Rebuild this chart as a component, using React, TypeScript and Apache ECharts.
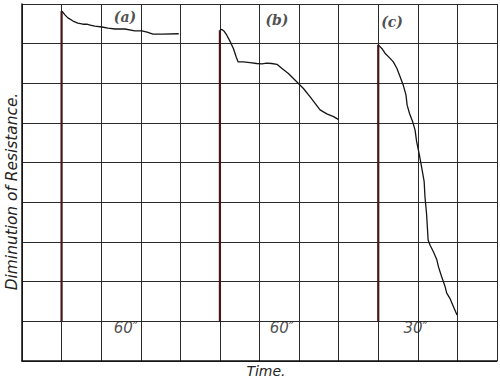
import React, { useEffect, useRef } from "react";
import * as echarts from "echarts";

const curveA: [number, number][] = [
  [1.0, 8.82], [1.02, 8.81], [1.09, 8.72], [1.16, 8.65], [1.29, 8.57], [1.41, 8.52],
  [1.54, 8.49], [1.64, 8.49], [1.72, 8.47], [1.84, 8.44], [2.02, 8.42], [2.17, 8.39],
  [2.35, 8.37], [2.6, 8.37], [2.85, 8.32], [3.03, 8.32], [3.16, 8.29], [3.31, 8.24],
  [3.54, 8.24], [3.96, 8.25],
];
const curveB: [number, number][] = [
  [5.0, 8.34], [5.05, 8.36], [5.1, 8.32], [5.17, 8.22], [5.25, 8.07], [5.34, 7.88],
  [5.41, 7.67], [5.46, 7.54], [5.59, 7.54], [5.76, 7.52], [5.93, 7.5], [6.06, 7.49],
  [6.18, 7.51], [6.31, 7.5], [6.44, 7.48], [6.56, 7.38], [6.73, 7.25], [6.94, 7.04],
  [7.11, 6.87], [7.28, 6.66], [7.4, 6.5], [7.53, 6.33], [7.7, 6.23], [7.87, 6.16],
  [7.99, 6.09],
];
const curveC: [number, number][] = [
  [9.0, 7.97], [9.09, 7.88], [9.17, 7.76], [9.3, 7.63], [9.38, 7.54], [9.47, 7.38],
  [9.55, 7.17], [9.63, 6.96], [9.7, 6.71], [9.73, 6.45], [9.79, 6.24], [9.87, 6.03],
  [9.93, 5.82], [9.97, 5.53], [10.04, 5.19], [10.1, 4.86], [10.16, 4.52], [10.18, 4.14],
  [10.22, 3.72], [10.26, 3.05], [10.31, 2.92], [10.39, 2.76], [10.48, 2.55], [10.52, 2.38],
  [10.6, 2.13], [10.69, 1.87], [10.73, 1.71], [10.81, 1.58], [10.9, 1.37], [10.99, 1.16],
];
const startLines: [number, number, number][] = [
  [1, 1, 8.82],
  [5, 1, 8.34],
  [9, 1, 7.97],
];
const curveLabels: [number, number, string][] = [
  [2.6, 8.67, "(a)"],
  [6.44, 8.6, "(b)"],
  [9.35, 8.55, "(c)"],
];
const durationLabels: [number, number, string][] = [
  [2.63, 0.84, "60\u2033"],
  [6.57, 0.83, "60\u2033"],
  [9.95, 0.83, "30\u2033"],
];

export default function App() {
  const ref = useRef<HTMLDivElement>(null);
  useEffect(() => {
    if (!ref.current) return;
    const chart = echarts.init(ref.current, undefined, { renderer: "svg" });
    const gridColor = "#2a2a2a";
    const series: any[] = [];
    startLines.forEach(([x, y0, y1]) => {
      series.push({
        type: "line",
        data: [[x, y0], [x, y1]],
        showSymbol: false,
        lineStyle: { color: "#4a1416", width: 2.2 },
        z: 3,
      });
    });
    [curveA, curveB, curveC].forEach((c) => {
      series.push({
        type: "line",
        data: c,
        showSymbol: false,
        lineStyle: { color: "#151515", width: 1.3 },
        z: 4,
      });
    });
    series.push({
      type: "scatter",
      data: curveLabels.map(([x, y, t]) => ({ value: [x, y], name: t })),
      symbolSize: 0,
      label: {
        show: true,
        position: "inside",
        formatter: (p: any) => p.name,
        fontFamily: "DejaVu Serif",
        fontStyle: "italic",
        fontWeight: "bold",
        fontSize: 14,
        color: "#222",
      },
      z: 5,
    });
    series.push({
      type: "scatter",
      data: durationLabels.map(([x, y, t]) => ({ value: [x, y], name: t })),
      symbolSize: 0,
      label: {
        show: true,
        position: "inside",
        formatter: (p: any) => p.name,
        fontFamily: "DejaVu Sans",
        fontStyle: "italic",
        fontSize: 15,
        color: "#222",
      },
      z: 5,
    });
    chart.setOption({
      animation: false,
      backgroundColor: "#ffffff",
      grid: { left: 22, top: 4, width: 475, height: 357, outerBoundsMode: "none", containLabel: false },
      xAxis: {
        type: "value",
        min: 0,
        max: 12,
        interval: 1,
        axisLabel: { show: false },
        axisTick: { show: false },
        axisLine: { show: true, lineStyle: { color: "#111", width: 1.5 } },
        splitLine: { show: true, lineStyle: { color: gridColor, width: 1 } },
        name: "Time.",
        nameLocation: "middle",
        nameGap: 3,
        nameTextStyle: {
          fontFamily: "DejaVu Sans",
          fontStyle: "italic",
          fontSize: 14,
          color: "#222",
          verticalAlign: "top",
          padding: [0, 0, 0, 13],
        },
      },
      yAxis: {
        type: "value",
        min: 0,
        max: 9,
        interval: 1,
        axisLabel: { show: false },
        axisTick: { show: false },
        axisLine: { show: true, lineStyle: { color: "#111", width: 1.5 } },
        splitLine: { show: true, lineStyle: { color: gridColor, width: 1 } },
        name: "Diminution of Resistance.",
        nameLocation: "middle",
        nameGap: 3,
        nameRotate: 90,
        nameTextStyle: {
          fontFamily: "DejaVu Sans",
          fontStyle: "italic",
          fontSize: 15.4,
          color: "#222",
          padding: [0, 18, 0, 0],
        },
      },
      series,
    });
    return () => chart.dispose();
  }, []);
  return <div ref={ref} style={{ width: 500, height: 379, position: "absolute", left: 0, top: 0 }} />;
}
